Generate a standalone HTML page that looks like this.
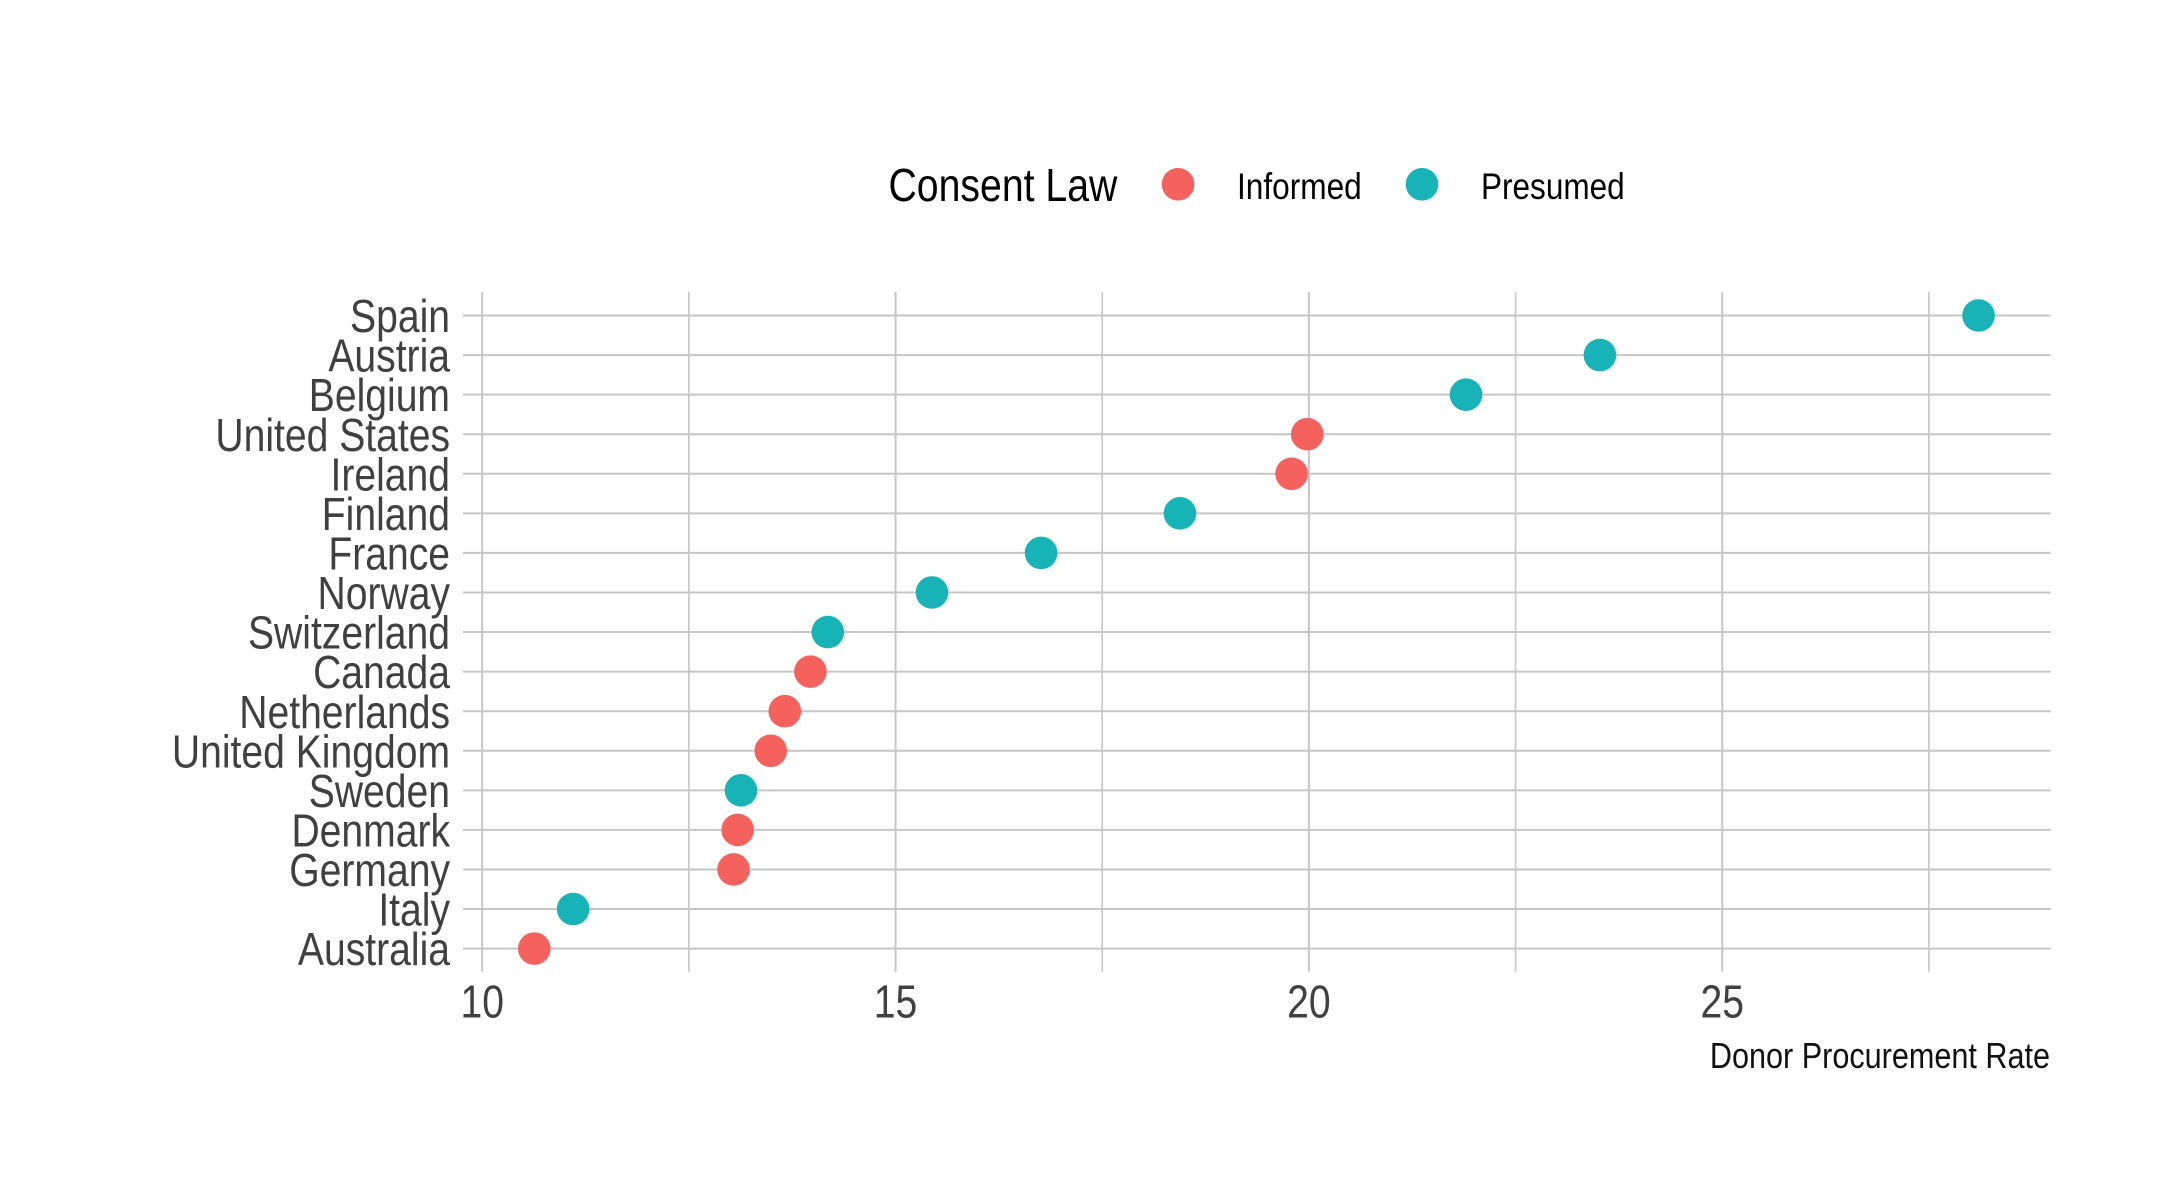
<!DOCTYPE html>
<html>
<head>
<meta charset="utf-8">
<title>Donor Procurement Rate by Country</title>
<style>
html,body{margin:0;padding:0;background:#fff;width:2175px;height:1200px;overflow:hidden}
svg{display:block}
text{font-family:"Liberation Sans",sans-serif}
</style>
</head>
<body>
<svg id="chart" xmlns="http://www.w3.org/2000/svg" width="2175" height="1200" viewBox="0 0 2175 1200">
<rect width="2175" height="1200" fill="#ffffff"/>
<g id="grid"></g>
<g id="ylabels"></g>
<g id="xlabels"></g>
<g id="points"></g>
<text transform="translate(2050 1068) scale(0.843 1)" text-anchor="end" font-size="36.3" fill="#111111">Donor Procurement Rate</text>
<g>
<text transform="translate(888.5 201) scale(0.847 1)" font-size="46.3" fill="#000000">Consent Law</text>
<circle cx="1178" cy="184.3" r="16.3" fill="#F5625E"/>
<text transform="translate(1237 198.8) scale(0.85 1)" font-size="37.2" fill="#000000">Informed</text>
<circle cx="1422" cy="184.3" r="16.3" fill="#17B3B7"/>
<text transform="translate(1481 198.8) scale(0.848 1)" font-size="37.2" fill="#000000">Presumed</text>
</g>
</svg>
<script>
const countries = ["Spain","Austria","Belgium","United States","Ireland","Finland","France","Norway","Switzerland","Canada","Netherlands","United Kingdom","Sweden","Denmark","Germany","Italy","Australia"];
const rates = [28.1,23.52,21.9,19.98,19.79,18.44,16.76,15.44,14.18,13.97,13.66,13.49,13.13,13.09,13.04,11.1,10.63];
const consentLaw = ["Presumed","Presumed","Presumed","Informed","Informed","Presumed","Presumed","Presumed","Presumed","Informed","Informed","Informed","Presumed","Informed","Informed","Presumed","Informed"];
const majorTicks = [10,15,20,25];
const minorTicks = [12.5,17.5,22.5,27.5];
const tickLabels = ["10","15","20","25"];

const NS = "http://www.w3.org/2000/svg";
const lawColors = {Informed:"#F5625E", Presumed:"#17B3B7"};
const plot = {left:463, right:2050.7, top:292, bottom:971.7};
const narrow = 0.85;
function xScale(v){ return 482.2 + (v - 10) * 82.67; }
function yScale(i){ return 315.5 + i * 39.57; }
function slug(s){ return s.toLowerCase().replace(/\s+/g,"-"); }
function make(tag, attrs, parent){
  const el = document.createElementNS(NS, tag);
  for (const k in attrs) el.setAttribute(k, attrs[k]);
  parent.appendChild(el);
  return el;
}
const grid = document.getElementById("grid");
const ylabels = document.getElementById("ylabels");
const xlabels = document.getElementById("xlabels");
const points = document.getElementById("points");

countries.forEach(function(c, i){
  const line = make("line", {x1:plot.left, x2:plot.right, y1:yScale(i), y2:yScale(i), stroke:"#c6c6c6", "stroke-width":2}, grid);
  
  
  const label = make("text", {transform:"translate(450 " + (yScale(i) + 16.6) + ") scale(" + narrow + " 1)", "text-anchor":"end", "font-size":46, fill:"#404040"}, ylabels);
  label.textContent = c;
  
  
});
minorTicks.forEach(function(t){
  const line = make("line", {x1:xScale(t), x2:xScale(t), y1:plot.top, y2:plot.bottom, stroke:"#c6c6c6", "stroke-width":1.6}, grid);
  
  
});
majorTicks.forEach(function(t, i){
  const line = make("line", {x1:xScale(t), x2:xScale(t), y1:plot.top, y2:plot.bottom, stroke:"#c6c6c6", "stroke-width":2}, grid);
  
  
  const label = make("text", {transform:"translate(" + xScale(t) + " 1017.5) scale(" + narrow + " 1)", "text-anchor":"middle", "font-size":46, fill:"#404040"}, xlabels);
  label.textContent = tickLabels[i];
  
  
});
rates.forEach(function(r, i){
  const dot = make("circle", {cx:xScale(r), cy:yScale(i), r:16.3, fill:lawColors[consentLaw[i]]}, points);
  
  
});
</script>
</body>
</html>
